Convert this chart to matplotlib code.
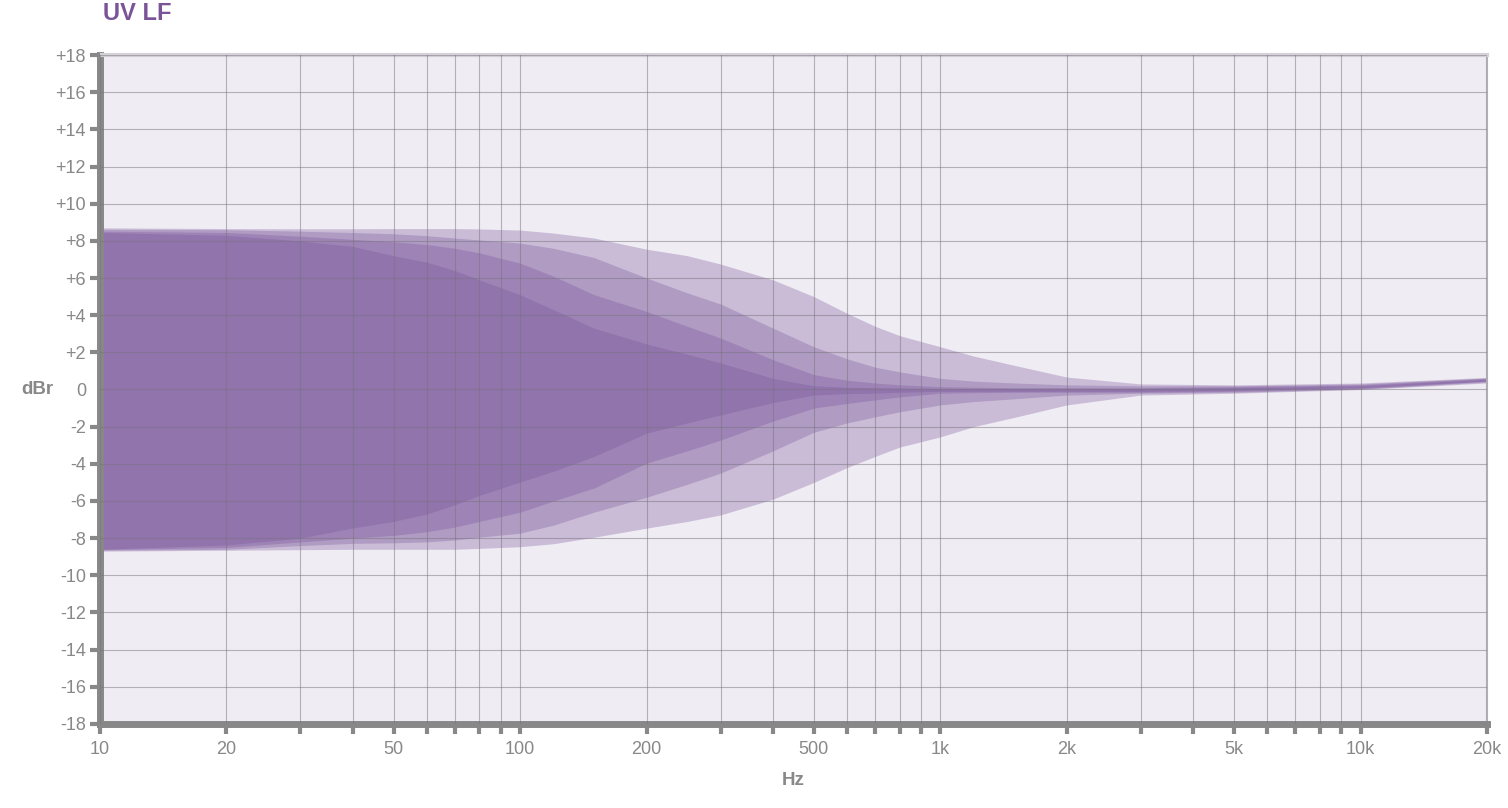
import numpy as np
import matplotlib
matplotlib.use("Agg")
import matplotlib.pyplot as plt

# frequencies (Hz) where the curves were read
freqs = [10, 20, 30, 40, 50, 60, 70, 80, 100, 120, 150, 200, 250, 300, 400, 500, 600, 700, 800,
         1000, 1200, 1500, 2000, 3000, 5000, 10000, 20000]

# upper (boost) edges of the four bands, widest first (dBr)
upper_1 = [8.7, 8.66, 8.65, 8.65, 8.66, 8.66, 8.66, 8.64, 8.58, 8.42, 8.15, 7.55, 7.2, 6.75, 5.9, 5.0, 4.1, 3.4, 2.9,
           2.3, 1.8, 1.3, 0.67, 0.3, 0.25, 0.35, 0.65]
upper_2 = [8.62, 8.6, 8.52, 8.45, 8.38, 8.28, 8.15, 8.05, 7.88, 7.6, 7.1, 6.0, 5.2, 4.6, 3.3, 2.3, 1.65, 1.2, 0.95,
           0.6, 0.45, 0.35, 0.25, 0.2, 0.2, 0.3, 0.62]
upper_3 = [8.52, 8.45, 8.25, 8.08, 7.95, 7.8, 7.6, 7.35, 6.8, 6.1, 5.1, 4.2, 3.4, 2.77, 1.6, 0.8, 0.5, 0.35, 0.25,
           0.15, 0.12, 0.1, 0.1, 0.1, 0.15, 0.25, 0.6]
upper_4 = [8.45, 8.3, 8.0, 7.7, 7.2, 6.85, 6.4, 5.9, 5.1, 4.3, 3.3, 2.45, 1.9, 1.43, 0.6, 0.2, 0.12, 0.1, 0.08,
           0.05, 0.05, 0.05, 0.05, 0.05, 0.1, 0.2, 0.55]

# lower (cut) edges of the four bands
lower_1 = [-8.7, -8.65, -8.62, -8.6, -8.6, -8.6, -8.6, -8.55, -8.46, -8.3, -7.95, -7.46, -7.1, -6.75, -5.9, -5.0, -4.2, -3.6, -3.1,
           -2.55, -2.0, -1.5, -0.83, -0.3, -0.2, 0.0, 0.35]
lower_2 = [-8.65, -8.6, -8.4, -8.28, -8.25, -8.2, -8.1, -7.95, -7.73, -7.3, -6.6, -5.8, -5.1, -4.5, -3.3, -2.3, -1.8, -1.47, -1.2,
           -0.83, -0.65, -0.5, -0.3, -0.2, -0.15, 0.02, 0.4]
lower_3 = [-8.62, -8.5, -8.2, -8.0, -7.85, -7.65, -7.4, -7.1, -6.6, -6.0, -5.3, -3.96, -3.3, -2.72, -1.7, -1.0, -0.75, -0.56, -0.4,
           -0.2, -0.17, -0.15, -0.15, -0.15, -0.1, 0.05, 0.45]
lower_4 = [-8.6, -8.37, -8.0, -7.45, -7.1, -6.7, -6.2, -5.7, -4.98, -4.4, -3.6, -2.35, -1.8, -1.37, -0.7, -0.3, -0.22, -0.2, -0.15,
           -0.1, -0.1, -0.1, -0.1, -0.1, -0.05, 0.1, 0.45]

bands = [(upper_1, lower_1), (upper_2, lower_2), (upper_3, lower_3), (upper_4, lower_4)]

xtick_vals = [10, 20, 50, 100, 200, 500, 1000, 2000, 5000, 10000, 20000]
xtick_labels = ["10", "20", "50", "100", "200", "500", "1k", "2k", "5k", "10k", "20k"]
ytick_vals = list(range(-18, 19, 2))
ytick_labels = [("+%d" % v if v > 0 else "%d" % v) for v in ytick_vals]

grey = "#888888"
purple = "#755098"

plt.rcParams['font.family'] = ['Liberation Sans', 'DejaVu Sans']

fig = plt.figure(figsize=(15.08, 8.08), dpi=100)
ax = fig.add_axes([0.0663, 0.104, 0.9198, 0.8279])
ax.set_facecolor("#efecf3")

for up, lo in bands:
    ax.fill_between(freqs, lo, up, color=purple, alpha=0.3, linewidth=0)

ax.set_xscale("log")
ax.set_xlim(10, 20000)
ax.set_ylim(-18, 18)

# grid at every decade step
minor = [m * 10 ** d for d in range(1, 5) for m in range(1, 10) if m * 10 ** d <= 20000]
ax.set_xticks(minor, minor=True)
ax.set_xticks(xtick_vals)
ax.set_xticklabels(xtick_labels)
ax.xaxis.set_minor_formatter(matplotlib.ticker.NullFormatter())
ax.set_yticks(ytick_vals)
ax.set_yticklabels(ytick_labels)

ax.set_axisbelow(False)
ax.grid(True, which="both", axis="x", color="#77737d", alpha=0.5, linewidth=0.8)
ax.grid(True, which="major", axis="y", color="#77737d", alpha=0.5, linewidth=0.8)

ax.tick_params(axis="both", which="both", colors=grey, labelcolor=grey, labelsize=13,
               length=7, width=3, direction="out", pad=3)
ax.tick_params(axis="x", which="major", pad=5)
# the 0 dB label has no tick mark
for t in ax.yaxis.get_major_ticks():
    if abs(t.get_loc()) < 1e-9:
        t.tick1line.set_visible(False)

for s in ["left", "bottom"]:
    ax.spines[s].set_color(grey)
    ax.spines[s].set_linewidth(5)
ax.spines["top"].set_color("#d4d2d8")
ax.spines["top"].set_linewidth(3)
ax.spines["right"].set_color("#b0aeb4")
ax.spines["right"].set_linewidth(1.5)

fig.text(0.0683, 0.998, "UV LF", color="#7b5497", fontsize=17, fontweight="bold", va="top", ha="left")
ax.set_ylabel("dBr", color=grey, fontsize=13.5, fontweight="bold", rotation=0, va="center", ha="center")
ax.yaxis.set_label_coords(-0.045, 0.5)
ax.set_xlabel("Hz", color=grey, fontsize=13.5, fontweight="bold", labelpad=10)

fig.savefig("out.png", dpi=100, facecolor="white")
